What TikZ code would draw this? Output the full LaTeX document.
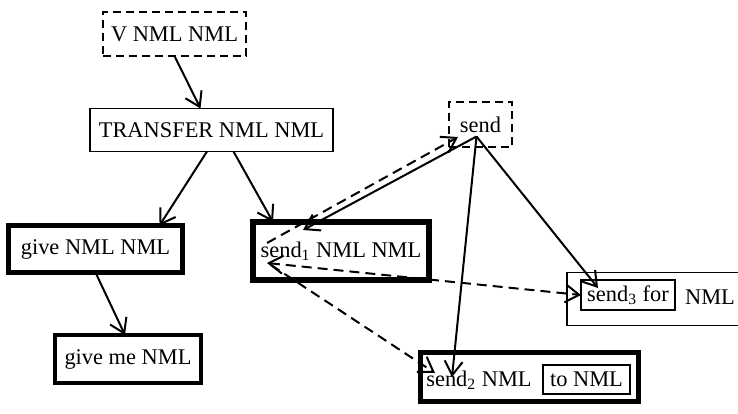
\documentclass[tikz,border=0pt]{standalone}
\usepackage{fontspec}
\setmainfont{Liberation Serif}
\usetikzlibrary{arrows.meta}
\tikzset{
  fbox/.style={draw,line width=0.9pt,inner sep=0pt,outer sep=0pt},
  fdash/.style={fbox,dash pattern=on 4pt off 2.5pt},
  fthick/.style={fbox,line width=2.8pt},
  ftext/.style={inner sep=0pt,outer sep=0pt},
  farr/.style={-{Straight Barb[length=7pt,width=9pt]},line width=1pt},
  flink/.style={farr,dash pattern=on 5pt off 3pt}
}

\begin{document}
\begin{tikzpicture}[x=0.5pt,y=-0.5pt,font=\fontsize{11.2}{13.4}\selectfont]
  \useasboundingbox (0,0) rectangle (738,413);
  \clip (0,0) rectangle (738,413);
  % frames
  \node[fdash,minimum width=71.5pt,minimum height=22pt] (vnml) at (174.5,34) {V NML NML};
  \node[fbox,minimum width=121.5pt,minimum height=21.5pt] (transfer) at (211.5,130) {TRANSFER NML NML};
  \node[fthick,minimum width=87pt,minimum height=23.5pt] (give) at (95.5,249) {give NML NML};
  \node[fthick,line width=2.4pt,minimum width=73pt,minimum height=24pt] (giveme) at (128,359) {give me NML};
  \node[fthick,line width=3pt,minimum width=88pt,minimum height=29pt] (send1) at (341,251) {send\textsubscript{1} NML NML};
  \node[fdash,minimum width=31.5pt,minimum height=22.5pt] (send) at (480.5,124.5) {send};
  % send3 with its inner frame, cut off at the right
  \node[fbox,minimum width=130pt,minimum height=26.5pt] (send3) at (697,299) {};
  \node[fbox,minimum width=47pt,minimum height=15pt] (send3in) at (628,295) {send\textsubscript{3} for};
  \node[ftext] (send3nml) at (710,297) {NML};
  % send2 with its inner frame
  \node[fthick,line width=2.6pt,minimum width=109pt,minimum height=24.5pt] (send2) at (529.5,377) {};
  \node[ftext] (send2txt) at (479,380) {send\textsubscript{2} NML};
  \node[fbox,minimum width=43.5pt,minimum height=14.5pt] (send2in) at (586.5,379.5) {to NML};

  \draw[farr] (vnml.south) -- ([xshift=-5.5pt]transfer.north);
  \draw[farr] ([xshift=-2.25pt]transfer.south) -- ([xshift=32pt]give.north);
  \draw[farr] ([xshift=11pt]transfer.south) -- ([xshift=-34pt]send1.north);
  \draw[farr] (give.south) -- ([xshift=-1.5pt]giveme.north);
  % from send
  \draw[farr] ([shift={(-4,12)}]send.center) -- ([shift={(-38,-21)}]send1.center);
  \draw[farr] ([shift={(-4,12)}]send.center) -- ([shift={(-77.5,0)}]send2.center);
  \draw[farr] ([shift={(-4,12)}]send.center) -- ([shift={(-30,-7)}]send3in.center);
  % dashed links
  \draw[flink] ([shift={(-74,-8)}]send1.center) -- ([shift={(-22.5,12.5)}]send.center);
  \draw[flink,{Straight Barb[length=7pt,width=9pt]}-{Straight Barb[length=7pt,width=9pt]}] ([shift={(-74,12)}]send1.center) -- (send3in.west);
  \draw[flink] ([shift={(-70,14)}]send1.center) -- ([shift={(-94.5,-4)}]send2.center);
\end{tikzpicture}
\end{document}
